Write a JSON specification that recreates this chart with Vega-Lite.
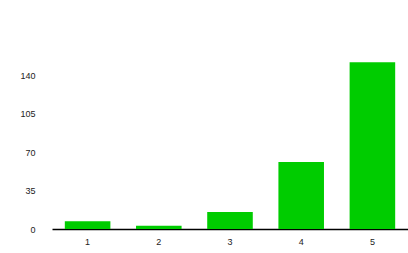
{
  "$schema": "https://vega.github.io/schema/vega-lite/v6.json",
  "autosize": {"type": "none"},
  "width": 356,
  "height": 170,
  "padding": {"left": 52, "top": 59, "right": 0, "bottom": 24},
  "background": "white",
  "data": {"values": [
    {"rating": "1", "count": 7},
    {"rating": "2", "count": 3},
    {"rating": "3", "count": 15.5},
    {"rating": "4", "count": 61},
    {"rating": "5", "count": 152}
  ]},
  "mark": {"type": "bar", "color": "#00cc00"},
  "encoding": {
    "x": {"field": "rating", "type": "nominal", "sort": null,
      "scale": {"paddingInner": 0.36, "paddingOuter": 0.18},
      "axis": {"title": null, "labelAngle": 0, "ticks": false, "domainColor": "#000000", "domainWidth": 1.5, "labelFont": "Liberation Sans", "labelFontSize": 9, "labelColor": "#222222", "labelPadding": 8}},
    "y": {"field": "count", "type": "quantitative",
      "scale": {"domain": [0, 155], "nice": false},
      "axis": {"title": null, "values": [0, 35, 70, 105, 140], "grid": false, "domain": false, "ticks": false, "labelPadding": 17, "labelFont": "Liberation Sans", "labelFontSize": 9, "labelColor": "#222222"}}
  },
  "config": {"view": {"stroke": null}}
}
